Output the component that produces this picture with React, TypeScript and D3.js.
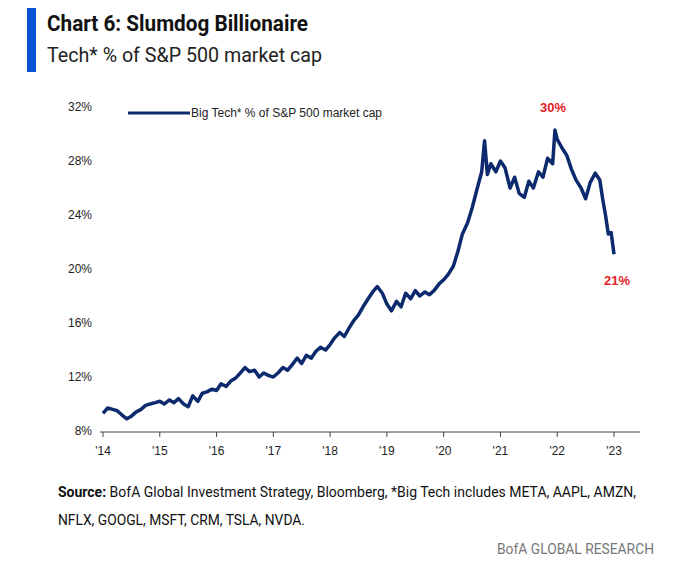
import React from 'react';
import * as d3 from 'd3';

// year fraction, % of S&P 500 market cap
const years = [2014.0,2014.08,2014.17,2014.25,2014.33,2014.42,2014.5,2014.58,2014.67,2014.75,2014.83,2014.92,
  2015.0,2015.08,2015.17,2015.25,2015.33,2015.42,2015.5,2015.58,2015.67,2015.75,2015.83,2015.92,
  2016.0,2016.08,2016.17,2016.25,2016.33,2016.42,2016.5,2016.58,2016.67,2016.75,2016.83,2016.92,
  2017.0,2017.08,2017.17,2017.25,2017.33,2017.42,2017.5,2017.58,2017.67,2017.75,2017.83,2017.92,
  2018.0,2018.08,2018.17,2018.25,2018.33,2018.42,2018.5,2018.58,2018.67,2018.75,2018.83,2018.92,
  2019.0,2019.08,2019.17,2019.25,2019.33,2019.42,2019.5,2019.58,2019.67,2019.75,2019.83,2019.92,
  2020.0,2020.08,2020.17,2020.25,2020.33,2020.42,2020.5,2020.58,2020.67,2020.72,2020.77,2020.83,2020.92,
  2021.0,2021.08,2021.17,2021.25,2021.33,2021.42,2021.5,2021.58,2021.67,2021.75,2021.83,2021.92,2021.96,
  2022.0,2022.08,2022.17,2022.25,2022.33,2022.42,2022.5,2022.58,2022.67,2022.75,2022.8,2022.85,2022.9,2022.95,2023.0];
const values = [9.3,9.7,9.6,9.5,9.2,8.9,9.1,9.4,9.6,9.9,10.0,10.1,
  10.2,10.0,10.3,10.1,10.4,10.0,9.8,10.6,10.2,10.8,10.9,11.1,
  11.0,11.5,11.3,11.7,11.9,12.3,12.7,12.4,12.5,12.0,12.3,12.1,
  12.0,12.3,12.7,12.5,12.9,13.4,13.0,13.6,13.4,13.9,14.2,14.0,
  14.4,14.9,15.3,15.0,15.6,16.2,16.6,17.2,17.8,18.3,18.7,18.2,
  17.4,16.9,17.6,17.2,18.2,17.8,18.4,18.0,18.3,18.1,18.4,18.9,
  19.2,19.6,20.2,21.3,22.6,23.4,24.5,25.8,27.2,29.5,27.0,27.8,27.2,
  28.0,27.5,26.0,26.8,25.6,25.3,26.5,26.0,27.2,26.8,28.2,27.8,30.3,
  29.6,29.0,28.4,27.4,26.6,26.0,25.2,26.4,27.1,26.6,25.2,24.0,22.6,22.7,21.1];
const yTicks = [8,12,16,20,24,28,32];
const xTicks = [2014,2015,2016,2017,2018,2019,2020,2021,2022,2023];
const sourceLines = [
  'BofA Global Investment Strategy, Bloomberg, *Big Tech includes META, AAPL, AMZN,',
  'NFLX, GOOGL, MSFT, CRM, TSLA, NVDA.'];

const navy = '#0d2a6e';
const W = 680, H = 569;

export default function App() {
  const x = d3.scaleLinear().domain([2014, 2023]).range([103, 614]);
  const y = d3.scaleLinear().domain([8, 32]).range([431, 107]);
  const line = d3.line<number>().x((_, i) => x(years[i])).y(d => y(d));
  const narrow = '"Liberation Sans Narrow", "Arial Narrow", Roboto, sans-serif';

  return (
    <svg width={W} height={H} style={{ position: 'absolute', left: 0, top: 0, background: '#fff' }}>
      <rect x={27} y={8} width={9} height={64} fill="#0a52d1" />
      <text x={47} y={31} fontFamily={narrow} fontWeight="bold" fontSize={22} fill="#111" textLength={261} lengthAdjust="spacingAndGlyphs">Chart 6: Slumdog Billionaire</text>
      <text x={47} y={62} fontFamily={narrow} fontSize={21} fill="#222" textLength={275} lengthAdjust="spacingAndGlyphs">Tech* % of S&amp;P 500 market cap</text>

      {yTicks.map(t => (
        <text key={t} x={92} y={y(t) + 4} textAnchor="end" fontFamily="Arial, Liberation Sans" fontSize={12} fill="#222">{t}%</text>
      ))}
      <line x1={100} x2={640} y1={432} y2={432} stroke="#444" strokeWidth={1} />
      {xTicks.map(t => (
        <g key={t}>
          <line x1={x(t)} x2={x(t)} y1={432} y2={437} stroke="#444" />
          <text x={x(t)} y={455} textAnchor="middle" fontFamily="Arial, Liberation Sans" fontSize={12} fill="#222">'{String(t).slice(2)}</text>
        </g>
      ))}

      <line x1={128} x2={190} y1={113} y2={113} stroke={navy} strokeWidth={3} />
      <text x={191} y={117} fontFamily="Arial, Liberation Sans" fontSize={12} fill="#222">Big Tech* % of S&amp;P 500 market cap</text>

      <path d={line(values) || ''} fill="none" stroke={navy} strokeWidth={3.5} strokeLinejoin="round" />

      <text x={553} y={112} textAnchor="middle" fontFamily="Arial, Liberation Sans" fontWeight="bold" fontSize={13} fill="#e41e26">30%</text>
      <text x={617} y={285} textAnchor="middle" fontFamily="Arial, Liberation Sans" fontWeight="bold" fontSize={13} fill="#e41e26">21%</text>

      <text x={58} y={497} fontFamily={narrow} fontSize={14.5} fill="#111" textLength={578} lengthAdjust="spacingAndGlyphs">
        <tspan fontWeight="bold">Source: </tspan>{sourceLines[0]}
      </text>
      <text x={58} y={525} fontFamily={narrow} fontSize={14.5} fill="#111" textLength={247} lengthAdjust="spacingAndGlyphs">{sourceLines[1]}</text>
      <text x={654} y={554} textAnchor="end" fontFamily={narrow} fontSize={14} fill="#777" textLength={157} lengthAdjust="spacingAndGlyphs">BofA GLOBAL RESEARCH</text>
    </svg>
  );
}
